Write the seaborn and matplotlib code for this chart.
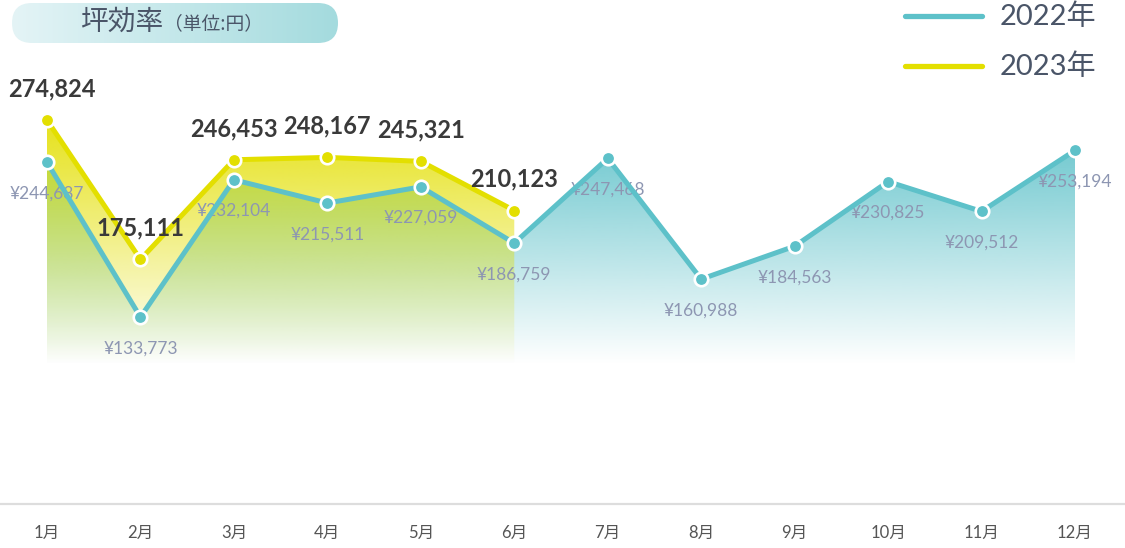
import numpy as np
import pandas as pd
import matplotlib
matplotlib.use("Agg")
import matplotlib.pyplot as plt
import seaborn as sns
from matplotlib.colors import to_rgb
from matplotlib.patches import PathPatch, FancyBboxPatch
from matplotlib.lines import Line2D

# data
months = ["1月", "2月", "3月", "4月", "5月", "6月", "7月", "8月", "9月", "10月", "11月", "12月"]
sales_2022 = [244687, 133773, 232104, 215511, 227059, 186759,
              247468, 160988, 184563, 230825, 209512, 253194]
sales_2023 = [274824, 175111, 246453, 248167, 245321, 210123]
series_names = ["2022年", "2023年"]
title_main = "坪効率"
title_unit = "（単位:円）"

TEAL = "#5DC1C9"
YELLOW = "#E3DF00"
TEXT = "#4A5568"
W, H = 1125, 548
YMAX = 360850
CJK = ["Noto Sans CJK JP", "DejaVu Sans"]

sns.set_style("white")
plt.rcParams["font.family"] = ["Lato", "Noto Sans CJK JP", "DejaVu Sans"]

df = pd.concat([
    pd.DataFrame({"idx": range(len(sales_2022)), "value": sales_2022, "year": series_names[0]}),
    pd.DataFrame({"idx": range(len(sales_2023)), "value": sales_2023, "year": series_names[1]}),
])

fig = plt.figure(figsize=(W / 100, H / 100), dpi=100)
ax = fig.add_axes([0, 44 / H, 1, 504 / H])


def gradient_fill(ax, x, y, color, amax, v_bottom, v_top, z):
    poly = ax.fill_between(x, y, 0, facecolor="none", edgecolor="none")
    patch = PathPatch(poly.get_paths()[0], transform=ax.transData,
                      facecolor="none", edgecolor="none")
    ax.add_patch(patch)
    vals = np.linspace(0, YMAX, 500)
    a = np.clip((vals - v_bottom) / (v_top - v_bottom), 0, 1) * amax
    rgba = np.zeros((500, 1, 4))
    rgba[..., :3] = to_rgb(color)
    rgba[:, 0, 3] = a
    im = ax.imshow(rgba, extent=[min(x), max(x), 0, YMAX], origin="lower",
                   aspect="auto", zorder=z, interpolation="bilinear")
    im.set_clip_path(patch)


x22 = np.arange(len(sales_2022))
x23 = np.arange(len(sales_2023))
gradient_fill(ax, x22, sales_2022, TEAL, 0.9, 100000, 262000, 1)
gradient_fill(ax, x23, sales_2023, YELLOW, 0.85, 100000, 265000, 2)

d22 = df[df["year"] == series_names[0]]
d23 = df[df["year"] == series_names[1]]
sns.lineplot(data=d22, x="idx", y="value", color=TEAL, linewidth=3.6, marker="o",
             markersize=9.7, markeredgecolor="white", markeredgewidth=1.9,
             ax=ax, zorder=4, legend=False)
sns.lineplot(data=d23, x="idx", y="value", color=YELLOW, linewidth=3.6, marker="o",
             markersize=9.7, markeredgecolor="white", markeredgewidth=1.9,
             ax=ax, zorder=5, legend=False)

# value labels
labels = []
for i, v in enumerate(sales_2022):
    t = ax.annotate(f"¥{v:,}", (i, v), xytext=(0, -22.5), textcoords="offset points",
                    ha="center", va="center", fontsize=12.5, color="#8D96B2", zorder=3)
    labels.append(t)
for i, v in enumerate(sales_2023):
    t = ax.annotate(f"{v:,}", (i, v), xytext=(0, 22.5), textcoords="offset points",
                    ha="center", va="center", fontsize=17, fontweight="bold",
                    color="#3A3A3A", zorder=6)
    labels.append(t)

ax.set_xlim(-47 / 93.45, 11 + 50 / 93.45)
ax.set_ylim(0, YMAX)
ax.set_xticks(range(len(months)))
ax.set_xticklabels(months, fontsize=12, color="#555555")
ax.set_yticks([])
ax.set_xlabel("")
ax.set_ylabel("")
ax.tick_params(axis="x", length=0, pad=15)
for s in ["top", "left", "right"]:
    ax.spines[s].set_visible(False)
ax.spines["bottom"].set_color("#DDDDDD")
ax.spines["bottom"].set_linewidth(1.6)

# keep labels near the left edge inside the figure
fig.canvas.draw()
r = fig.canvas.get_renderer()
for t in labels:
    bb = t.get_window_extent(r)
    if bb.x0 < 8:
        dx, dy = t.xyann
        t.xyann = (dx + (8 - bb.x0) * 0.72, dy)

# title pill
tax = fig.add_axes([12 / W, 1 - 43 / H, 326 / W, 40 / H])
tax.set_xlim(0, 326)
tax.set_ylim(0, 40)
tax.axis("off")
c0, c1 = np.array(to_rgb("#E4F4F6")), np.array(to_rgb("#A4DBDE"))
g = np.linspace(0, 1, 256)[None, :, None]
grad = c0 + (c1 - c0) * g
pill = FancyBboxPatch((0, 0), 326, 40, boxstyle="round,pad=0,rounding_size=20",
                      transform=tax.transData, facecolor="none", edgecolor="none")
tax.add_patch(pill)
im = tax.imshow(grad, extent=[0, 326, 0, 40], aspect="auto")
im.set_clip_path(pill)
tax.text(151, 21, title_main, ha="right", va="center", fontsize=20, color=TEXT,
         family=CJK)
tax.text(152, 19.5, title_unit, ha="left", va="center", fontsize=13.5, color=TEXT,
         family=CJK)

# legend
for k, (name, col) in enumerate(zip(series_names, [TEAL, YELLOW])):
    py = 16 + k * 50
    fig.add_artist(Line2D([905 / W, 982 / W], [1 - py / H] * 2, color=col,
                          linewidth=3.8, transform=fig.transFigure))
    fig.text(1000 / W, 1 - (py + 1) / H, name, ha="left", va="center",
             fontsize=21, color=TEXT)

fig.savefig("out.png", dpi=100)
